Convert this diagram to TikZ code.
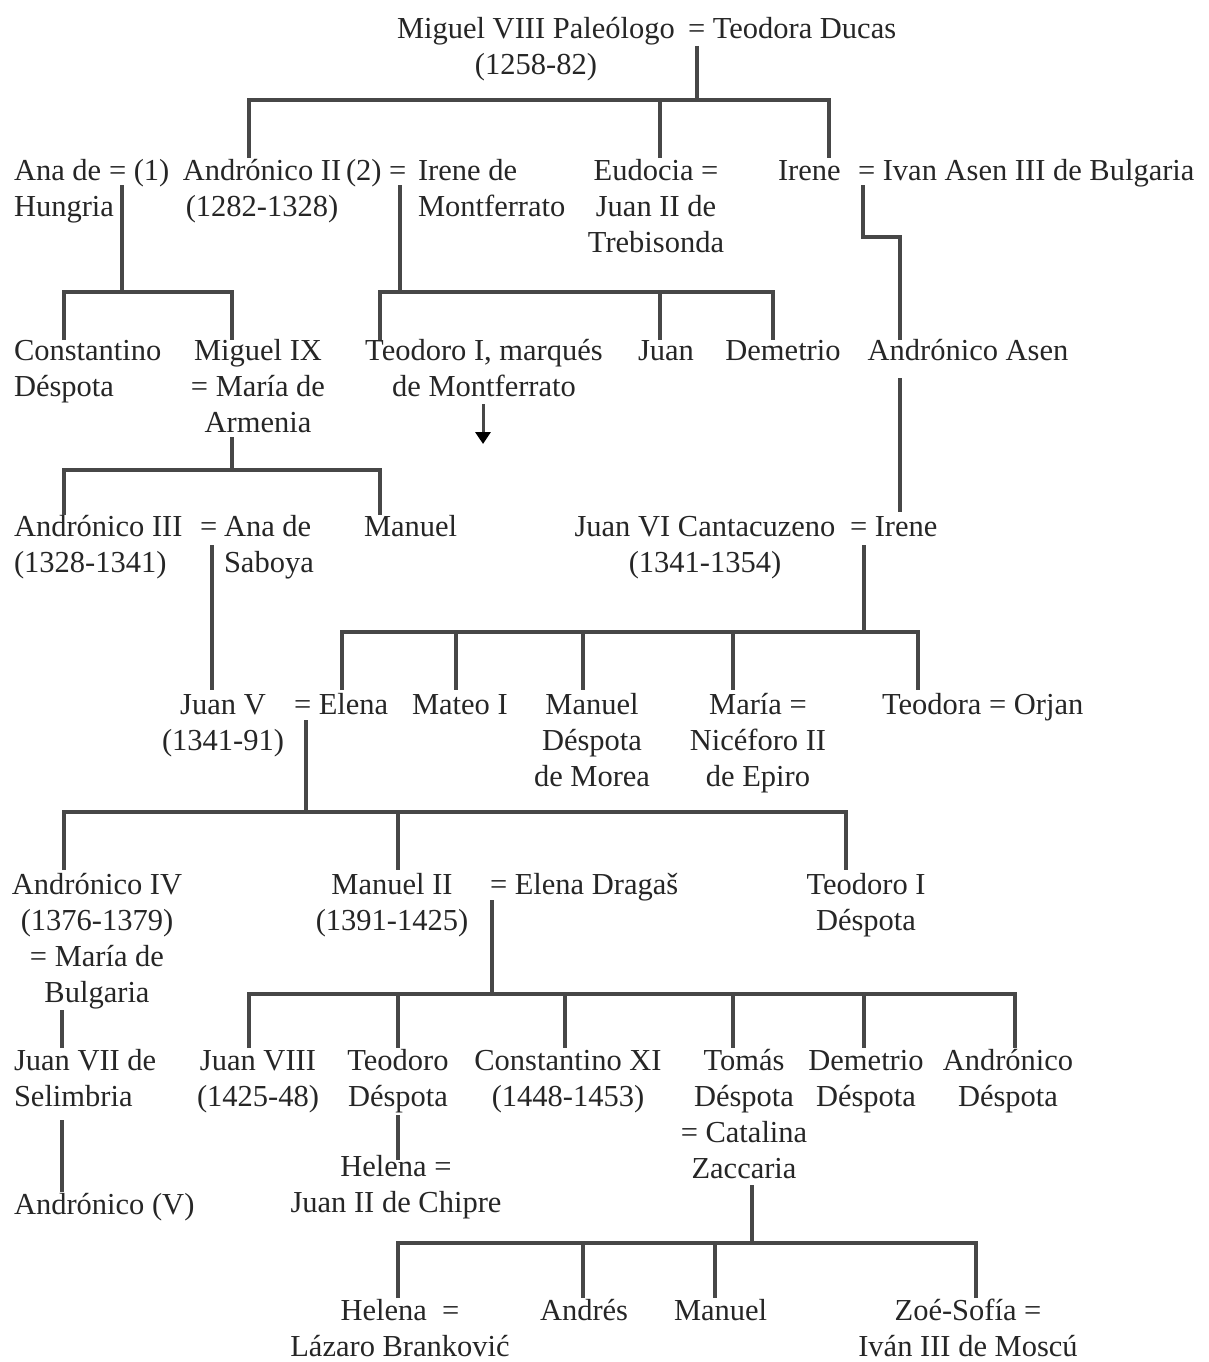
\documentclass[tikz,border=0pt]{standalone}
\usepackage{fontspec}
\setmainfont{Liberation Serif}
\usetikzlibrary{arrows.meta}
\begin{document}
\begin{tikzpicture}[x=1pt,y=-1pt,
  txt/.style={inner sep=0pt,outer sep=0pt,font=\fontsize{30.5}{36}\selectfont,text=black!85,yshift=4.4pt},
  lft/.style={txt,anchor=north west,align=left},
  ctr/.style={txt,anchor=north,align=center},
  link/.style={line width=3.5pt,draw=black!72},
  arr/.style={line width=3pt,draw=black!72,-{Triangle[length=12pt,width=15pt,fill=black,color=black]}}]
\useasboundingbox (0,0) rectangle (1208,1362);
\fill[white] (0,0) rectangle (1208,1362);

% ---------- row 0
\node[txt,anchor=north west,align=center] (m8) at (397,18) {\strut Miguel VIII Paleólogo\\(1258-82)};
\node[lft] (teod) at (688,18) {\strut = Teodora Ducas};
% ---------- row 1
\node[lft] (anah) at (14,160) {\strut Ana de\\Hungria};
\node[lft] (eqa) at (109,160) {\strut = (1)};
\node[ctr] (andr2) at (262,160) {\strut Andrónico II\\(1282-1328)};
\node[lft] (eqb) at (346,160) {\strut (2) =};
\node[lft] (irenem) at (418,160) {\strut Irene de\\Montferrato};
\node[ctr] (eudocia) at (656,160) {\strut Eudocia =\\Juan II de\\Trebisonda};
\node[lft] (irene1) at (778,160) {\strut Irene};
\node[lft] (ivan) at (858,160) {\strut = Ivan Asen III de Bulgaria};
% ---------- row 2
\node[lft] (constd) at (14,340) {\strut Constantino\\Déspota};
\node[ctr] (mig9) at (258,340) {\strut Miguel IX\\= María de\\Armenia};
\node[ctr] (teo1) at (484,340) {\strut Teodoro I, marqués\\de Montferrato};
\node[ctr] (juan) at (666,340) {\strut Juan};
\node[ctr] (dem1) at (783,340) {\strut Demetrio};
\node[ctr] (andrasen) at (968,340) {\strut Andrónico Asen};
% ---------- row 3
\node[lft] (andr3) at (14,516) {\strut Andrónico III\\(1328-1341)};
\node[lft] (eqc) at (200,516) {\strut =};
\node[lft] (anas) at (224,516) {\strut Ana de\\Saboya};
\node[lft] (manuel1) at (364,516) {\strut Manuel};
\node[ctr] (juan6) at (705,516) {\strut Juan VI Cantacuzeno\\(1341-1354)};
\node[lft] (irene2) at (850,516) {\strut = Irene};
% ---------- row 4
\node[ctr] (juan5) at (223,694) {\strut Juan V\\(1341-91)};
\node[lft] (elena1) at (294,694) {\strut = Elena};
\node[lft] (mateo) at (412,694) {\strut Mateo I};
\node[ctr] (manuel2) at (592,694) {\strut Manuel\\Déspota\\de Morea};
\node[ctr] (maria) at (758,694) {\strut María =\\Nicéforo II\\de Epiro};
\node[lft] (teodora) at (882,694) {\strut Teodora = Orjan};
% ---------- row 5
\node[ctr] (andr4) at (97,874) {\strut Andrónico IV\\(1376-1379)\\= María de\\Bulgaria};
\node[ctr] (manuel3) at (392,874) {\strut Manuel II\\(1391-1425)};
\node[lft] (elena2) at (490,874) {\strut = Elena Dragaš};
\node[ctr] (teo1d) at (866,874) {\strut Teodoro I\\Déspota};
% ---------- row 6
\node[lft] (juan7) at (14,1050) {\strut Juan VII de\\Selimbria};
\node[ctr] (juan8) at (258,1050) {\strut Juan VIII\\(1425-48)};
\node[ctr] (teo2) at (398,1050) {\strut Teodoro\\Déspota};
\node[ctr] (const11) at (568,1050) {\strut Constantino XI\\(1448-1453)};
\node[ctr] (tomas) at (744,1050) {\strut Tomás\\Déspota\\= Catalina\\Zaccaria};
\node[ctr] (dem2) at (866,1050) {\strut Demetrio\\Déspota};
\node[ctr] (andr6) at (1008,1050) {\strut Andrónico\\Déspota};
\node[ctr] (helena1) at (396,1156) {\strut Helena =\\Juan II de Chipre};
\node[lft] (andr5) at (14,1194) {\strut Andrónico (V)};
% ---------- row 7
\node[ctr] (helena2) at (400,1300) {\strut Helena\enspace=\\Lázaro Branković};
\node[lft] (andres) at (540,1300) {\strut Andrés};
\node[lft] (manuel4) at (674,1300) {\strut Manuel};
\node[ctr] (zoe) at (968,1300) {\strut Zoé-Sofía =\\Iván III de Moscú};

% ---------- connectors
% Miguel VIII = Teodora
\coordinate (u0) at (697,46);
\coordinate (b0) at (697,100);
\coordinate (k01) at (249,158);
\coordinate (k02) at (660,158);
\coordinate (k03) at (829,158);
\draw[link] (u0) -- (b0);
\draw[link] (k01) -- (k01 |- b0) -- (k03 |- b0) -- (k03);
\draw[link] (k02 |- b0) -- (k02);
% Ana de Hungria = Andronico II
\coordinate (u1) at (122,185);
\coordinate (b1) at (122,292);
\coordinate (k11) at (64,340);
\coordinate (k12) at (232,340);
\draw[link] (u1) -- (b1);
\draw[link] (k11) -- (k11 |- b1) -- (k12 |- b1) -- (k12);
% Andronico II = Irene de Montferrato
\coordinate (u2) at (400,185);
\coordinate (b2) at (400,292);
\coordinate (k21) at (380,340);
\coordinate (k22) at (660,340);
\coordinate (k23) at (773,340);
\draw[link] (u2) -- (b2);
\draw[link] (k21) -- (k21 |- b2) -- (k23 |- b2) -- (k23);
\draw[link] (k22 |- b2) -- (k22);
% Irene = Ivan Asen III
\coordinate (u3) at (863,185);
\coordinate (j3) at (863,237);
\coordinate (k31) at (900,340);
\draw[link] (u3) -- (j3) -| (k31);
% Teodoro I, marques de Montferrato -> descendants
\coordinate (a1) at (483,404);
\coordinate (a2) at (483,444);
\draw[arr] (a1) -- (a2);
% Miguel IX = Maria de Armenia
\coordinate (u4) at (232,437);
\coordinate (b4) at (232,470);
\coordinate (k41) at (64,515);
\coordinate (k42) at (380,515);
\draw[link] (u4) -- (b4);
\draw[link] (k41) -- (k41 |- b4) -- (k42 |- b4) -- (k42);
% Andronico Asen -> Irene
\coordinate (u5) at (900,378);
\coordinate (k51) at (900,512);
\draw[link] (u5) -- (k51);
% Andronico III = Ana de Saboya
\coordinate (u6) at (212,545);
\coordinate (k61) at (212,690);
\draw[link] (u6) -- (k61);
% Juan VI = Irene
\coordinate (u7) at (864,545);
\coordinate (b7) at (864,632);
\coordinate (k71) at (342,690);
\coordinate (k72) at (456,690);
\coordinate (k73) at (583,690);
\coordinate (k74) at (733,690);
\coordinate (k75) at (918,690);
\draw[link] (u7) -- (b7);
\draw[link] (k71) -- (k71 |- b7) -- (k75 |- b7) -- (k75);
\foreach \k in {k72,k73,k74} \draw[link] (\k |- b7) -- (\k);
% Juan V = Elena
\coordinate (u8) at (306,720);
\coordinate (b8) at (306,812);
\coordinate (k81) at (64,870);
\coordinate (k82) at (398,870);
\coordinate (k83) at (846,870);
\draw[link] (u8) -- (b8);
\draw[link] (k81) -- (k81 |- b8) -- (k83 |- b8) -- (k83);
\draw[link] (k82 |- b8) -- (k82);
% Manuel II = Elena Dragas
\coordinate (u9) at (492,900);
\coordinate (b9) at (492,994);
\coordinate (k91) at (249,1048);
\coordinate (k92) at (398,1048);
\coordinate (k93) at (565,1048);
\coordinate (k94) at (733,1048);
\coordinate (k95) at (864,1048);
\coordinate (k96) at (1015,1048);
\draw[link] (u9) -- (b9);
\draw[link] (k91) -- (k91 |- b9) -- (k96 |- b9) -- (k96);
\foreach \k in {k92,k93,k94,k95} \draw[link] (\k |- b9) -- (\k);
% Andronico IV -> Juan VII
\coordinate (u10) at (62,1010);
\coordinate (k101) at (62,1048);
\draw[link] (u10) -- (k101);
% Juan VII -> Andronico (V)
\coordinate (u11) at (62,1120);
\coordinate (k111) at (62,1192);
\draw[link] (u11) -- (k111);
% Teodoro Despota -> Helena
\coordinate (u12) at (398,1115);
\coordinate (k121) at (398,1160);
\draw[link] (u12) -- (k121);
% Tomas = Catalina Zaccaria
\coordinate (u13) at (752,1185);
\coordinate (b13) at (752,1243);
\coordinate (k131) at (398,1298);
\coordinate (k132) at (583,1298);
\coordinate (k133) at (715,1298);
\coordinate (k134) at (976,1298);
\draw[link] (u13) -- (b13);
\draw[link] (k131) -- (k131 |- b13) -- (k134 |- b13) -- (k134);
\foreach \k in {k132,k133} \draw[link] (\k |- b13) -- (\k);
\end{tikzpicture}
\end{document}
